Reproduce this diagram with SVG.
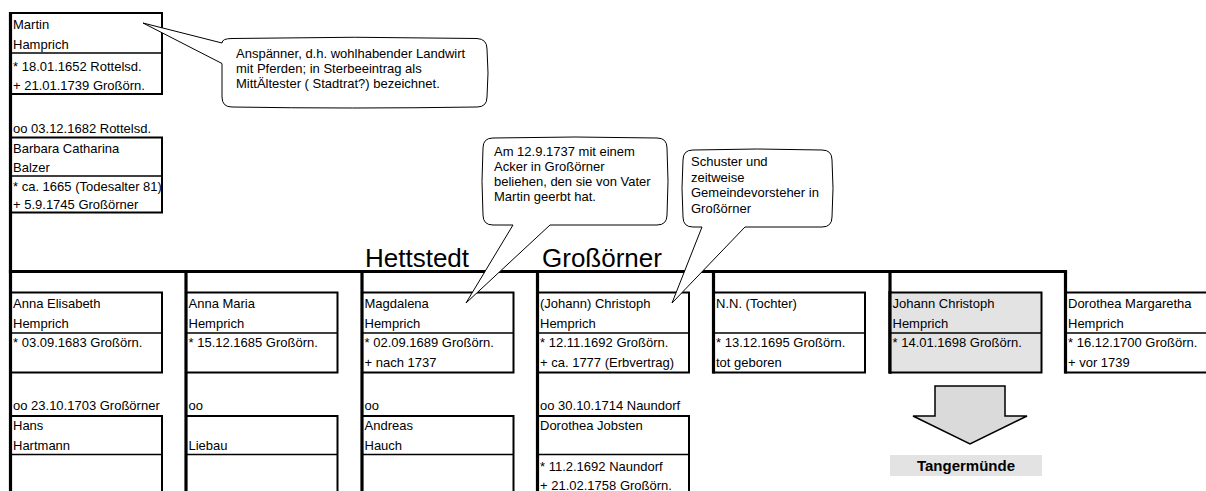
<svg xmlns="http://www.w3.org/2000/svg" width="1206" height="491" viewBox="0 0 1206 491">
<style>
.t{font-family:"Liberation Sans",Arial,sans-serif;font-size:13px;fill:#000}
.big{font-family:"Liberation Sans",Arial,sans-serif;font-size:26px;fill:#000}
.box{fill:none;stroke:#000;stroke-width:2}
.div{stroke:#000;stroke-width:1.6}
.conn{stroke:#000;stroke-width:3.2;fill:none}
.call{fill:#fff;stroke:#000;stroke-width:1}
</style>
<rect width="1206" height="491" fill="#fff"/>

<g id="connectors">
  <line class="conn" x1="10.5" y1="12" x2="10.5" y2="491"/>
  <line class="conn" x1="8.9" y1="271.5" x2="1067.1" y2="271.5" stroke-width="3.5"/>
  <line class="conn" x1="186" y1="271.5" x2="186" y2="491"/>
  <line class="conn" x1="362" y1="271.5" x2="362" y2="491"/>
  <line class="conn" x1="537.5" y1="271.5" x2="537.5" y2="491"/>
  <line class="conn" x1="713.5" y1="271.5" x2="713.5" y2="373.5"/>
  <line class="conn" x1="890" y1="271.5" x2="890" y2="373.5"/>
  <line class="conn" x1="1065.5" y1="271.5" x2="1065.5" y2="373.5"/>
</g>

<g id="martin">
  <rect class="box" x="10.5" y="13" width="151.5" height="81"/>
  <line class="div" x1="10.5" y1="53" x2="162" y2="53"/>
  <text class="t" x="13" y="28.5">Martin</text>
  <text class="t" x="13" y="48.5">Hamprich</text>
  <text class="t" x="13" y="71">* 18.01.1652 Rottelsd.</text>
  <text class="t" x="13" y="90">+ 21.01.1739 Großörn.</text>
</g>

<g id="marriage-parents">
  <text class="t" x="13" y="133">oo 03.12.1682 Rottelsd.</text>
</g>

<g id="barbara">
  <rect class="box" x="10.5" y="137.5" width="151.5" height="75"/>
  <line class="div" x1="10.5" y1="176" x2="162" y2="176"/>
  <text class="t" x="13" y="153">Barbara Catharina</text>
  <text class="t" x="13" y="172">Balzer</text>
  <text class="t" x="13" y="191">* ca. 1665 (Todesalter 81)</text>
  <text class="t" x="13" y="208.5">+ 5.9.1745 Großörner</text>
</g>

<g id="place-labels">
  <text class="big" x="365" y="266.5">Hettstedt</text>
  <text class="big" x="542" y="266.5">Großörner</text>
</g>

<g id="child-anna-elisabeth">
  <rect class="box" x="10.5" y="292.5" width="151.5" height="80"/>
  <line class="div" x1="10.5" y1="333" x2="162" y2="333"/>
  <text class="t" x="13" y="308">Anna Elisabeth</text>
  <text class="t" x="13" y="328">Hemprich</text>
  <text class="t" x="13" y="347">* 03.09.1683 Großörn.</text>
</g>
<g id="spouse-hartmann">
  <text class="t" x="13" y="409.5">oo 23.10.1703 Großörner</text>
  <rect class="box" x="10.5" y="416" width="151.5" height="90"/>
  <line class="div" x1="10.5" y1="454.5" x2="162" y2="454.5"/>
  <text class="t" x="13" y="429.5">Hans</text>
  <text class="t" x="13" y="450">Hartmann</text>
</g>

<g id="child-anna-maria">
  <rect class="box" x="186" y="292.5" width="151.5" height="80"/>
  <line class="div" x1="186" y1="333" x2="337.5" y2="333"/>
  <text class="t" x="188.5" y="308">Anna Maria</text>
  <text class="t" x="188.5" y="328">Hemprich</text>
  <text class="t" x="188.5" y="347">* 15.12.1685 Großörn.</text>
</g>
<g id="spouse-liebau">
  <text class="t" x="188.5" y="409.5">oo</text>
  <rect class="box" x="186" y="416" width="151.5" height="90"/>
  <line class="div" x1="186" y1="454.5" x2="337.5" y2="454.5"/>
  <text class="t" x="188.5" y="450">Liebau</text>
</g>

<g id="child-magdalena">
  <rect class="box" x="362" y="292.5" width="151.5" height="80"/>
  <line class="div" x1="362" y1="333" x2="513.5" y2="333"/>
  <text class="t" x="364.5" y="308">Magdalena</text>
  <text class="t" x="364.5" y="328">Hemprich</text>
  <text class="t" x="364.5" y="347">* 02.09.1689 Großörn.</text>
  <text class="t" x="364.5" y="367">+ nach 1737</text>
</g>
<g id="spouse-hauch">
  <text class="t" x="364.5" y="409.5">oo</text>
  <rect class="box" x="362" y="416" width="151.5" height="90"/>
  <line class="div" x1="362" y1="454.5" x2="513.5" y2="454.5"/>
  <text class="t" x="364.5" y="429.5">Andreas</text>
  <text class="t" x="364.5" y="450">Hauch</text>
</g>

<g id="child-christoph">
  <rect class="box" x="537.5" y="292.5" width="151.5" height="80"/>
  <line class="div" x1="537.5" y1="333" x2="689" y2="333"/>
  <text class="t" x="540" y="308">(Johann) Christoph</text>
  <text class="t" x="540" y="328">Hemprich</text>
  <text class="t" x="540" y="347">* 12.11.1692 Großörn.</text>
  <text class="t" x="540" y="367">+ ca. 1777 (Erbvertrag)</text>
</g>
<g id="spouse-jobsten">
  <text class="t" x="540" y="409.5">oo 30.10.1714 Naundorf</text>
  <rect class="box" x="537.5" y="416" width="151.5" height="90"/>
  <line class="div" x1="537.5" y1="454.5" x2="689" y2="454.5"/>
  <text class="t" x="540" y="429.5">Dorothea Jobsten</text>
  <text class="t" x="540" y="471">* 11.2.1692 Naundorf</text>
  <text class="t" x="540" y="490">+ 21.02.1758 Großörn.</text>
</g>

<g id="child-nn">
  <rect class="box" x="713.5" y="292.5" width="151.5" height="80"/>
  <line class="div" x1="713.5" y1="333" x2="865" y2="333"/>
  <text class="t" x="716" y="308">N.N. (Tochter)</text>
  <text class="t" x="716" y="347">* 13.12.1695 Großörn.</text>
  <text class="t" x="716" y="367">tot geboren</text>
</g>

<g id="child-johann-christoph">
  <rect x="890" y="292.5" width="151.5" height="80" fill="#e3e3e3"/>
  <rect class="box" x="890" y="292.5" width="151.5" height="80"/>
  <line class="div" x1="890" y1="333" x2="1041.5" y2="333"/>
  <line class="conn" x1="890" y1="291" x2="890" y2="373.5"/>
  <text class="t" x="892.5" y="308">Johann Christoph</text>
  <text class="t" x="892.5" y="328">Hemprich</text>
  <text class="t" x="892.5" y="347">* 14.01.1698 Großörn.</text>
</g>

<g id="child-dorothea-margaretha">
  <rect class="box" x="1065.5" y="292.5" width="151.5" height="80"/>
  <line class="div" x1="1065.5" y1="333" x2="1206" y2="333"/>
  <text class="t" x="1068" y="308">Dorothea Margaretha</text>
  <text class="t" x="1068" y="328">Hemprich</text>
  <text class="t" x="1068" y="347">* 16.12.1700 Großörn.</text>
  <text class="t" x="1068" y="367">+ vor 1739</text>
</g>

<g id="arrow-tangermuende">
  <polygon points="935,386 1005,386 1005,416 1027,416 970,444 913,416 935,416" fill="#dadada" stroke="#000" stroke-width="1.5"/>
</g>
<g id="tangermuende">
  <rect x="890" y="455" width="152" height="21" fill="#e3e3e3"/>
  <text x="966" y="471" text-anchor="middle" font-family="Liberation Sans, Arial, sans-serif" font-size="15" font-weight="bold">Tangermünde</text>
</g>

<g id="callout-martin">
  <path class="call" d="M232,38.5 Q355,36 477,38.5 Q487,39 487,49 Q489,73 487,97 Q487,107 477,107 Q350,109 232,107 Q222,107 222,97 L222,63.5 L143,23 L222,43 Q222,38.5 232,38.5 Z"/>
  <text class="t" x="236" y="57.5">Anspänner, d.h. wohlhabender Landwirt</text>
  <text class="t" x="236" y="72.5">mit Pferden; in Sterbeeintrag als</text>
  <text class="t" x="236" y="87.5">MittÄltester ( Stadtrat?) bezeichnet.</text>
</g>

<g id="callout-magdalena">
  <path class="call" d="M493,138 Q575,136 657,138 Q667,138 667,148 Q669,181 667,215 Q667,225 657,225 L550,225 L466,303 L513,225 L493,225 Q483,225 483,215 Q481,181 483,148 Q483,138 493,138 Z"/>
  <text class="t" x="494" y="156">Am 12.9.1737 mit einem</text>
  <text class="t" x="494" y="171">Acker in Großörner</text>
  <text class="t" x="494" y="186">beliehen, den sie von Vater</text>
  <text class="t" x="494" y="201">Martin geerbt hat.</text>
</g>

<g id="callout-christoph">
  <path class="call" d="M693,150 Q757,148 822,150 Q832,150 832,160 Q834,188 832,217 Q832,227 822,227 L745,227 L672,303 L702,227 L693,227 Q683,227 683,217 Q681,188 683,160 Q683,150 693,150 Z"/>
  <text class="t" x="691" y="166">Schuster und</text>
  <text class="t" x="691" y="181.5">zeitweise</text>
  <text class="t" x="691" y="197">Gemeindevorsteher in</text>
  <text class="t" x="691" y="212.5">Großörner</text>
</g>
</svg>
